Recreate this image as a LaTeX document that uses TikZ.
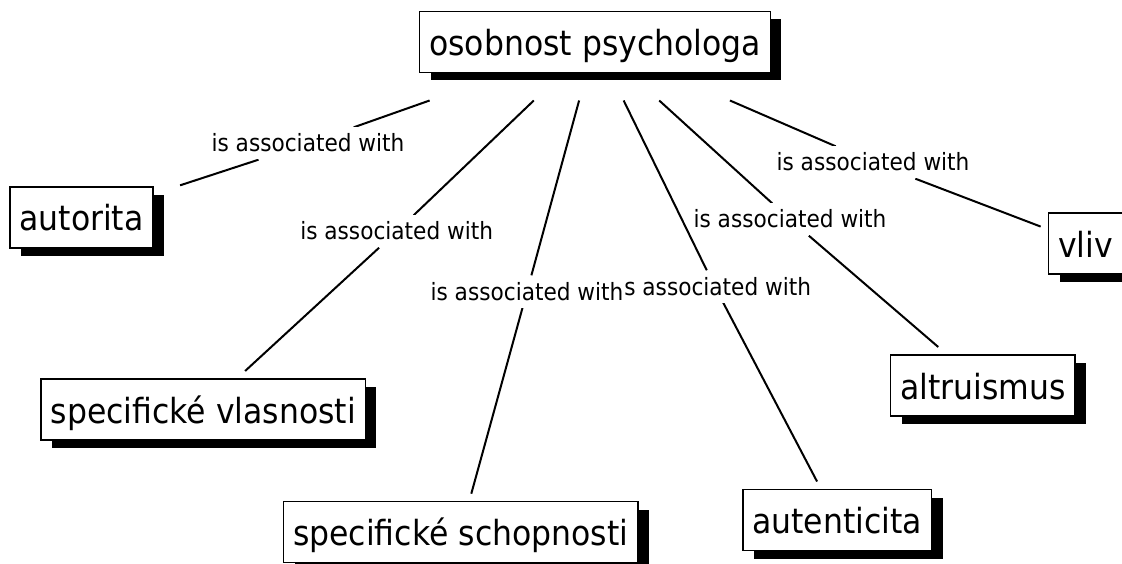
\documentclass[tikz,border=0pt]{standalone}
\usepackage{fontspec}
\setmainfont{DejaVu Sans}[FakeStretch=0.91]
\usetikzlibrary{shadows,backgrounds}
\begin{document}
\begin{tikzpicture}[x=1pt,y=-1pt,
  concept/.style={draw=black, line width=1.5pt, fill=white, rectangle,
    inner xsep=9.5pt, inner ysep=0pt, minimum height=61pt,
    text height=29pt, text depth=2pt,
    font=\fontsize{34.6}{40}\selectfont, outer sep=8pt,
    drop shadow={shadow xshift=11pt, shadow yshift=-8pt, opacity=1, fill=black}},
  linkph/.style={fill=white, inner xsep=0.5pt, inner ysep=7.5pt,
    text height=17pt, text depth=0pt, font=\fontsize{23.8}{28}\selectfont},
  conn/.style={line width=2pt, draw=black}]
\useasboundingbox (0,0) rectangle (1122,564);

\node[concept, outer sep=28pt] (P) at (595,42) {osobnost psychologa};
\node[concept, outer xsep=27pt] (C1) at (81.5,217.5) {autorita};
\node[concept] (C2) at (203.3,409.5) {specifické vlasnosti};
\node[concept] (C3) at (460.7,532.2) {specifické schopnosti};
\node[concept] (C4) at (837.2,520) {autenticita};
\node[concept] (C5) at (982.9,385.5) {altruismus};
\node[concept] (C6) at (1085.5,243.7) {vliv};

\node[linkph] (L4) at (714.7,286.5) {is associated with};
\node[linkph] (L1) at (308,143.5) {is associated with};
\node[linkph] (L2) at (396.7,231.5) {is associated with};
\node[linkph] (L3) at (527,291.5) {is associated with};
\node[linkph] (L5) at (790,219.5) {is associated with};
\node[linkph] (L6) at (873,162.5) {is associated with};

\begin{scope}[on background layer]
  \draw[conn] (P) -- (L1) -- (C1);
  \draw[conn] (P) -- (L2) -- (C2);
  \draw[conn] (P) -- (L3) -- (C3);
  \draw[conn] (P) -- (L4) -- (C4);
  \draw[conn] (P) -- (L5) -- (C5);
  \draw[conn] (P) -- (L6) -- (C6);
\end{scope}
\end{tikzpicture}
\end{document}
